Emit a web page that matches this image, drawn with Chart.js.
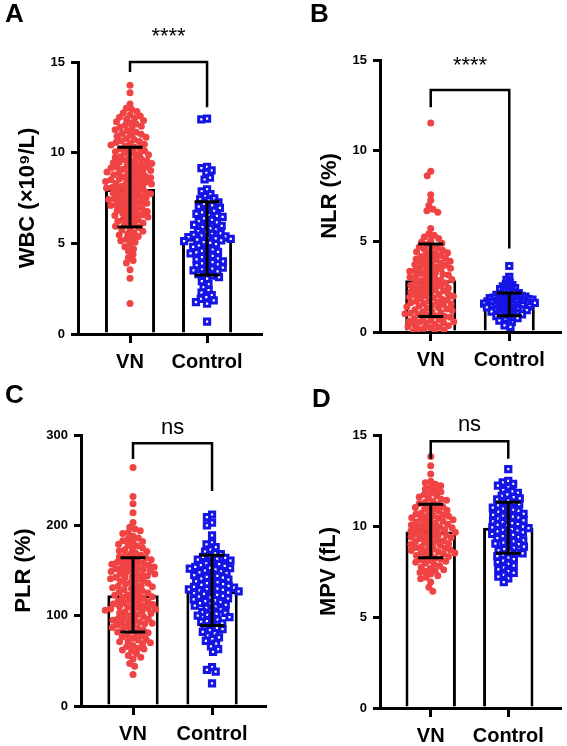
<!DOCTYPE html>
<html>
<head>
<meta charset="utf-8">
<script src="https://cdn.jsdelivr.net/npm/chart.js@4.4.1/dist/chart.umd.min.js"></script>
<style>
body{margin:0;background:#fff;}
#wrap{position:relative;width:567px;height:746px;}
#wrap canvas{position:absolute;}
.tag{position:absolute;font:bold 26px "Liberation Sans",Arial,sans-serif;line-height:1;color:#000;}
</style>
</head>
<body>
<div id="wrap">
<canvas id="pA" width="283" height="373" style="left:0;top:0"></canvas>
<canvas id="pB" width="284" height="373" style="left:283px;top:0"></canvas>
<canvas id="pC" width="283" height="373" style="left:0;top:373px"></canvas>
<canvas id="pD" width="284" height="373" style="left:283px;top:373px"></canvas>
<div class="tag" style="left:5px;top:0">A</div>
<div class="tag" style="left:310px;top:0">B</div>
<div class="tag" style="left:5px;top:381px">C</div>
<div class="tag" style="left:312px;top:385px">D</div>
</div>
<script>
// groups
const groups = ['VN', 'Control'];

// A: WBC
const wbcVN = [13.72, 13.31, 12.68,
  12.45, 12.38, 12.27, 12.19, 12.08, 12.02,
  11.96, 11.91, 11.84, 11.77, 11.70, 11.63, 11.58, 11.52,
  11.46, 11.40, 11.33, 11.27, 11.19, 11.12, 11.06, 11.01,
  10.97, 10.91, 10.85, 10.78, 10.72, 10.66, 10.61, 10.56, 10.51,
  10.47, 10.42, 10.36, 10.31, 10.26, 10.21, 10.15, 10.10, 10.05, 10.01,
  9.97, 9.93, 9.88, 9.83, 9.78, 9.73, 9.68, 9.64, 9.59, 9.55, 9.51,
  9.48, 9.44, 9.40, 9.36, 9.32, 9.28, 9.24, 9.20, 9.16, 9.12, 9.09, 9.05, 9.02,
  8.98, 8.94, 8.90, 8.86, 8.82, 8.78, 8.74, 8.70, 8.66, 8.62, 8.58, 8.55, 8.51,
  8.48, 8.45, 8.41, 8.38, 8.34, 8.30, 8.27, 8.23, 8.19, 8.15, 8.12, 8.08, 8.05, 8.01,
  7.97, 7.93, 7.89, 7.85, 7.81, 7.77, 7.73, 7.69, 7.65, 7.61, 7.57, 7.53, 7.50,
  7.46, 7.42, 7.38, 7.34, 7.29, 7.25, 7.21, 7.17, 7.13, 7.09, 7.05, 7.01,
  6.96, 6.91, 6.86, 6.81, 6.76, 6.71, 6.66, 6.61, 6.57, 6.53, 6.50,
  6.45, 6.39, 6.33, 6.28, 6.22, 6.17, 6.12, 6.06, 6.01,
  5.94, 5.87, 5.80, 5.73, 5.66, 5.59, 5.52,
  5.46, 5.38, 5.30, 5.22, 5.14, 5.06,
  4.93, 4.81, 4.69, 4.56,
  4.38, 4.21, 4.05,
  3.92, 3.54, 3.08, 1.68];
const wbcCtrl = [11.88, 11.84,
  9.22, 9.15, 9.02, 8.88, 8.63, 8.52,
  7.98, 7.86, 7.72, 7.60, 7.48,
  7.43, 7.35, 7.26, 7.18, 7.09, 7.02,
  6.95, 6.87, 6.79, 6.71, 6.63, 6.56, 6.51,
  6.46, 6.38, 6.30, 6.22, 6.15, 6.08, 6.02,
  5.96, 5.89, 5.82, 5.75, 5.68, 5.61, 5.55, 5.51,
  5.47, 5.42, 5.38, 5.34, 5.30, 5.27, 5.24, 5.20, 5.16, 5.12, 5.07, 5.02,
  4.95, 4.88, 4.80, 4.73, 4.66, 4.59, 4.53, 4.50,
  4.45, 4.38, 4.31, 4.24, 4.17, 4.11, 4.06, 4.01,
  3.96, 3.90, 3.84, 3.78, 3.72, 3.66, 3.60, 3.55, 3.51,
  3.45, 3.38, 3.30, 3.22, 3.14, 3.06,
  2.92, 2.75, 2.58,
  2.42, 2.28, 2.15, 2.03,
  1.94, 1.85, 1.76, 1.68,
  0.68];
const wbcMean = [8.0, 5.25];
const wbcLow = [5.9, 3.25];
const wbcHigh = [10.3, 7.3];

// B: NLR
const nlrVN = [11.52, 8.86, 8.62, 7.57, 7.26, 6.97, 6.77, 6.68, 6.61, 5.71,
  5.42, 5.33, 5.24, 5.15, 5.06,
  4.97, 4.90, 4.83, 4.76, 4.69, 4.62, 4.56, 4.51,
  4.47, 4.42, 4.37, 4.32, 4.27, 4.22, 4.17, 4.12, 4.07, 4.02,
  3.98, 3.94, 3.90, 3.85, 3.81, 3.77, 3.72, 3.68, 3.63, 3.59, 3.55, 3.51,
  3.47, 3.43, 3.39, 3.35, 3.31, 3.27, 3.22, 3.18, 3.14, 3.10, 3.06, 3.02,
  2.98, 2.94, 2.90, 2.86, 2.82, 2.78, 2.74, 2.70, 2.66, 2.62, 2.58, 2.54, 2.51,
  2.47, 2.43, 2.39, 2.35, 2.31, 2.27, 2.23, 2.19, 2.15, 2.11, 2.07, 2.04, 2.01,
  1.97, 1.93, 1.89, 1.85, 1.81, 1.77, 1.73, 1.69, 1.65, 1.61, 1.57, 1.54, 1.51,
  1.47, 1.43, 1.39, 1.35, 1.31, 1.27, 1.23, 1.19, 1.15, 1.11, 1.07, 1.04, 1.01,
  0.97, 0.93, 0.89, 0.85, 0.81, 0.77, 0.73, 0.69, 0.65, 0.61, 0.57, 0.54, 0.51,
  0.47, 0.43, 0.39, 0.35, 0.31, 0.27, 0.23, 0.19, 0.15, 0.11, 0.07, 0.03];
const nlrCtrl = [3.64, 3.04, 2.88, 2.74, 2.66, 2.58, 2.52,
  2.47, 2.42, 2.36, 2.31, 2.26, 2.22,
  2.18, 2.15, 2.12, 2.08, 2.05, 2.02,
  1.99, 1.97, 1.95, 1.93, 1.91, 1.89, 1.87, 1.85, 1.83, 1.81,
  1.79, 1.77, 1.76, 1.74, 1.72, 1.70, 1.69, 1.67, 1.65, 1.64, 1.62, 1.61,
  1.59, 1.57, 1.55, 1.53, 1.51, 1.49, 1.47, 1.45, 1.43, 1.42, 1.41,
  1.38, 1.36, 1.33, 1.31, 1.29, 1.26, 1.24, 1.22, 1.21,
  1.18, 1.15, 1.12, 1.09, 1.06, 1.03, 1.01,
  0.97, 0.94, 0.90, 0.87, 0.84, 0.81,
  0.77, 0.72, 0.67, 0.63,
  0.55, 0.46, 0.37, 0.28];
const nlrMean = [2.85, 1.5];
const nlrLow = [0.85, 0.9];
const nlrHigh = [4.85, 2.15];

// C: PLR
const plrVN = [264, 232, 224, 214, 203,
  198, 196, 194, 192, 191,
  188, 186, 185, 183, 182, 181,
  179, 178, 177, 175, 174, 173, 172, 171,
  169, 168, 167, 166, 165, 164, 163, 162, 161, 160,
  159.5, 159, 158, 157, 156, 155.5, 155, 154, 153, 152.5, 152, 151, 150,
  149.5, 149, 148, 147, 146.5, 146, 145, 144, 143, 142.5, 142, 141, 140,
  139, 138, 137, 136, 135, 134, 133, 132.5, 132, 131, 130,
  129, 128, 127, 126, 125, 124, 123, 122.5, 122, 121, 120,
  119, 118, 117, 116, 115.5, 115, 114, 113, 112.5, 112, 111, 110,
  109.5, 109, 108, 107.5, 107, 106, 105.5, 105, 104, 103, 102.5, 101, 100,
  99, 98, 97, 96, 95.5, 95, 94, 93, 92, 91.5, 91, 90,
  89, 88, 87, 86, 85, 84, 83, 82, 81, 80,
  79, 78, 76.5, 75, 74, 73, 72, 71, 70,
  69, 67, 66, 64, 63, 62, 61,
  58, 56, 54, 52,
  47, 44, 35];
const plrCtrl = [212, 209, 203, 200, 189,
  181, 179, 176, 173, 171,
  169, 168, 166, 165, 164, 163, 162, 161,
  159, 158, 157, 156, 155, 154, 153, 152.5, 152, 151, 150,
  149, 148, 147, 146, 145, 144, 143, 142, 141, 140,
  139, 138, 137, 136, 135, 134, 133, 132.5, 132, 131, 130,
  129.5, 129, 128.5, 128, 127, 126, 125.5, 125, 124, 123, 122, 121, 120,
  119, 118, 117, 116, 115, 114, 113, 112, 111, 110,
  108.5, 107, 105.5, 104, 103, 102, 101, 100,
  98.5, 97, 95.5, 94, 93, 91.5, 90,
  88, 86.5, 85, 84, 82, 80.5,
  78, 76, 74, 72,
  69, 66, 63, 60,
  43, 40, 38, 25];
const plrMean = [122.5, 127];
const plrLow = [82, 89];
const plrHigh = [164, 167];

// D: MPV
const mpvVN = [13.82, 13.31, 12.86,
  12.46, 12.38, 12.29, 12.21, 12.12, 12.03,
  11.96, 11.88, 11.80, 11.73, 11.66, 11.59, 11.52,
  11.47, 11.41, 11.35, 11.29, 11.23, 11.17, 11.11, 11.06, 11.01,
  10.96, 10.91, 10.86, 10.81, 10.76, 10.71, 10.66, 10.61, 10.57, 10.53, 10.50,
  10.46, 10.42, 10.38, 10.34, 10.30, 10.26, 10.22, 10.18, 10.14, 10.10, 10.06, 10.02,
  9.98, 9.94, 9.91, 9.87, 9.84, 9.80, 9.77, 9.73, 9.70, 9.66, 9.62, 9.58, 9.55, 9.51,
  9.47, 9.43, 9.39, 9.35, 9.31, 9.27, 9.23, 9.19, 9.15, 9.11, 9.06, 9.02,
  8.98, 8.94, 8.90, 8.86, 8.82, 8.78, 8.74, 8.70, 8.66, 8.62, 8.58, 8.55, 8.51,
  8.47, 8.42, 8.38, 8.33, 8.28, 8.24, 8.19, 8.15, 8.10, 8.06, 8.01,
  7.95, 7.88, 7.81, 7.74, 7.67, 7.60, 7.54, 7.50,
  7.44, 7.36, 7.27, 7.19, 7.10,
  6.92, 6.63, 6.41];
const mpvCtrl = [13.12,
  12.48, 12.40, 12.31, 12.22, 12.13,
  11.97, 11.90, 11.82, 11.74, 11.66, 11.59, 11.52,
  11.46, 11.40, 11.33, 11.27, 11.20, 11.13, 11.07, 11.01,
  10.95, 10.89, 10.83, 10.77, 10.71, 10.66, 10.61, 10.56, 10.51,
  10.46, 10.41, 10.36, 10.31, 10.26, 10.21, 10.16, 10.11, 10.06, 10.01,
  9.97, 9.92, 9.88, 9.83, 9.79, 9.74, 9.70, 9.65, 9.61, 9.56, 9.51,
  9.45, 9.39, 9.33, 9.27, 9.21, 9.15, 9.09, 9.03, 9.00,
  8.94, 8.87, 8.80, 8.73, 8.66, 8.59, 8.53, 8.50,
  8.42, 8.34, 8.26, 8.18, 8.10, 8.02,
  7.92, 7.82, 7.72, 7.62, 7.52,
  7.42, 7.32, 7.22, 7.12,
  6.92];
const mpvMean = [9.7, 9.9];
const mpvLow = [8.25, 8.5];
const mpvHigh = [11.2, 11.3];

const RED = '#f04343';
const BLUE = '#1414e6';
const FONT = '"Liberation Sans", Arial, sans-serif';
Chart.defaults.font.family = FONT;
Chart.defaults.color = '#000';

// error bars, bracket and significance text
const annot = {
  id: 'annot',
  afterDatasetsDraw(chart, args, o) {
    const {ctx} = chart;
    const x = chart.scales.x, y = chart.scales.y;
    ctx.save();
    ctx.strokeStyle = '#000';
    ctx.lineWidth = 3;
    o.low.forEach((lo, i) => {
      const cx = x.getPixelForValue(i);
      const y1 = y.getPixelForValue(lo), y2 = y.getPixelForValue(o.high[i]);
      ctx.beginPath();
      ctx.moveTo(cx, y1); ctx.lineTo(cx, y2);
      ctx.moveTo(cx - 12.5, y1); ctx.lineTo(cx + 12.5, y1);
      ctx.moveTo(cx - 12.5, y2); ctx.lineTo(cx + 12.5, y2);
      ctx.stroke();
    });
    const b = o.bracket;
    const x0 = x.getPixelForValue(0), x1 = x.getPixelForValue(1);
    ctx.lineWidth = 2.5;
    ctx.beginPath();
    ctx.moveTo(x0, y.getPixelForValue(b[1]));
    ctx.lineTo(x0, y.getPixelForValue(b[0]));
    ctx.lineTo(x1, y.getPixelForValue(b[0]));
    ctx.lineTo(x1, y.getPixelForValue(b[2]));
    ctx.stroke();
    ctx.fillStyle = '#000';
    ctx.font = '22px ' + FONT;
    ctx.textAlign = 'center';
    ctx.textBaseline = 'middle';
    ctx.fillText(o.sig, (x0 + x1) / 2, y.getPixelForValue(o.sigAt));
    ctx.restore();
  }
};

// simple beeswarm: each point takes the free spot nearest the group centre
function swarm(chart, values, group, gap) {
  const x = chart.scales.x, y = chart.scales.y;
  const cx = x.getPixelForValue(group);
  const placed = [];
  return values.map(v => {
    const py = y.getPixelForValue(v);
    const blocked = [];
    placed.forEach(p => {
      const dy = p.y - py;
      if (Math.abs(dy) < gap) {
        const w = Math.sqrt(gap * gap - dy * dy);
        blocked.push([p.x - w, p.x + w]);
      }
    });
    const cands = [0];
    blocked.forEach(r => cands.push(r[0], r[1]));
    cands.sort((a, c) => Math.abs(a) - Math.abs(c));
    const off = cands.find(c => blocked.every(r => c <= r[0] + 1e-6 || c >= r[1] - 1e-6));
    placed.push({x: off, y: py});
    return {x: x.getValueForPixel(cx + off), y: v};
  });
}

function panel(id, p) {
  const chart = new Chart(document.getElementById(id), {
    type: 'bar',
    data: {
      datasets: [
        {type: 'scatter', data: [], pointStyle: 'circle', radius: 3.5, borderWidth: 0,
         backgroundColor: RED, borderColor: RED, order: 1},
        {type: 'scatter', data: [], pointStyle: 'rect', radius: 3.7, borderWidth: 3,
         backgroundColor: '#fff', borderColor: BLUE, order: 1},
        {type: 'bar', data: p.mean.map((m, i) => ({x: i, y: m})), backgroundColor: '#fff',
         borderColor: '#000', borderWidth: 3, barPercentage: 0.65, categoryPercentage: 1, order: 2}
      ]
    },
    options: {
      responsive: false,
      animation: false,
      events: [],
      layout: {padding: {left: p.padL, top: p.padT, right: p.padR, bottom: 0}},
      plugins: {legend: {display: false}, tooltip: {enabled: false},
        annot: {low: p.low, high: p.high, bracket: p.bracket, sig: p.sig, sigAt: p.sigAt}},
      scales: {
        x: {
          type: 'linear', min: p.xmin, max: p.xmax, offset: false,
          afterBuildTicks: s => { s.ticks = [{value: 0}, {value: 1}]; },
          afterFit: s => { s.height = p.xh; },
          ticks: {callback: v => groups[v], font: {size: 20, weight: 'bold'}, color: '#000',
                  padding: 7, maxRotation: 0, autoSkip: false},
          grid: {drawOnChartArea: false, offset: false, tickLength: 9, color: '#000', lineWidth: 3},
          border: {color: '#000', width: 3}
        },
        y: {
          min: 0, max: p.ymax,
          afterFit: s => { s.width = p.yw; },
          ticks: {stepSize: p.step, font: {size: 13, weight: 'bold'}, color: '#000', padding: 6},
          grid: {drawOnChartArea: false, tickLength: 7, color: '#000', lineWidth: 3},
          border: {color: '#000', width: 3},
          title: {display: true, text: p.title, font: {size: 22, weight: 'bold'}, color: '#000',
                  padding: {top: 4, bottom: 4}}
        }
      }
    },
    plugins: [annot]
  });
  chart.data.datasets[0].data = swarm(chart, p.vn, 0, p.gap[0]);
  chart.data.datasets[1].data = swarm(chart, p.ctrl, 1, p.gap[1]);
  chart.update('none');
}

panel('pA', {vn: wbcVN, ctrl: wbcCtrl, mean: wbcMean, low: wbcLow, high: wbcHigh,
  title: 'WBC (×10⁹/L)', ymax: 15, step: 5, bracket: [15, 14.45, 12.5], sig: '****', sigAt: 16.4,
  padL: 11, yw: 67, padT: 62, xh: 39, padR: 22, xmin: -0.675, xmax: 1.70, gap: [5.6, 5.8]});
panel('pB', {vn: nlrVN, ctrl: nlrCtrl, mean: nlrMean, low: nlrLow, high: nlrHigh,
  title: 'NLR (%)', ymax: 15, step: 5, bracket: [13.35, 12.4, 4.6], sig: '****', sigAt: 14.7,
  padL: 30, yw: 67, padT: 60, xh: 41, padR: 6, xmin: -0.646, xmax: 1.646, gap: [5.6, 4]});
panel('pC', {vn: plrVN, ctrl: plrCtrl, mean: plrMean, low: plrLow, high: plrHigh,
  title: 'PLR (%)', ymax: 300, step: 100, bracket: [291, 273.5, 238], sig: 'ns', sigAt: 308,
  padL: 7, yw: 74, padT: 62, xh: 40, padR: 18, xmin: -0.658, xmax: 1.67, gap: [5.6, 5.8]});
panel('pD', {vn: mpvVN, ctrl: mpvCtrl, mean: mpvMean, low: mpvLow, high: mpvHigh,
  title: 'MPV (fL)', ymax: 15, step: 5, bracket: [14.65, 13.7, 13.7], sig: 'ns', sigAt: 15.55,
  padL: 29, yw: 68, padT: 62, xh: 38, padR: 6, xmin: -0.654, xmax: 1.667, gap: [5.6, 5.8]});
</script>
</body>
</html>
